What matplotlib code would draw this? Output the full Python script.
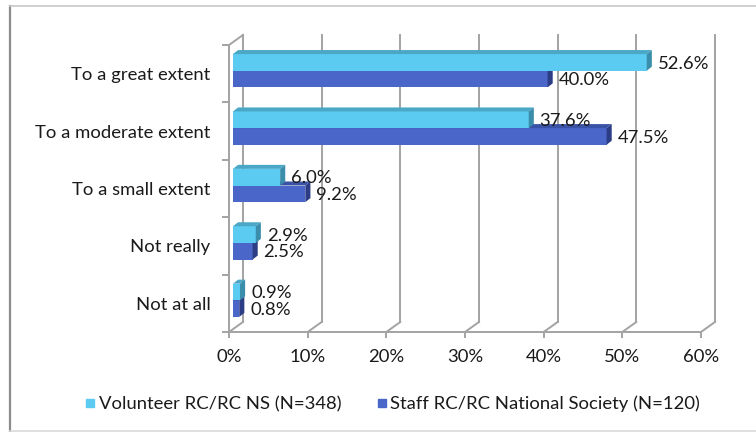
import matplotlib
matplotlib.use('Agg')
from matplotlib import pyplot as plt
from matplotlib.patches import Polygon
from matplotlib.lines import Line2D

categories = ['Not at all', 'Not really', 'To a small extent', 'To a moderate extent', 'To a great extent']
volunteer = [0.9, 2.9, 6.0, 37.6, 52.6]
staff = [0.8, 2.5, 9.2, 47.5, 40.0]
series_names = ['Volunteer RC/RC NS (N=348)', 'Staff RC/RC National Society (N=120)']
x_ticks = [0, 10, 20, 30, 40, 50, 60]
x_labels = ['0%', '10%', '20%', '30%', '40%', '50%', '60%']

plt.rcParams['font.family'] = ['Lato', 'DejaVu Sans']
fsize = 13.3
grid_col = '#a3a3a3'
text_col = '#1a1a1a'

# face colours: front, top, side
light_cols = ('#5ccbf1', '#4aa8c6', '#3a8eab')
dark_cols = ('#4a66c8', '#3a52a6', '#2c3d86')

# 3-D look: wall depth and bar depth offsets in data units
wall_dx, wall_dy = 1.78, 0.175
bar_x0, bar_y0 = 0.5, 0.052
depth_dx, depth_dy = 0.65, 0.07
bar_h = 0.29

fig = plt.figure(figsize=(7.56, 4.32), dpi=100)
ax = fig.add_axes([229/756, 100/432, 472/756, 287/432])
ax.set_xlim(0, 60)
ax.set_ylim(0, 5)
ax.patch.set_visible(False)

# back wall gridlines and floor diagonals
for x in x_ticks:
    ax.plot([x, x + wall_dx], [0, wall_dy], color=grid_col, lw=1.4, zorder=1, clip_on=False)
    ax.plot([x + wall_dx, x + wall_dx], [wall_dy, 5 + wall_dy], color=grid_col, lw=1.4, zorder=1, clip_on=False)
# top edge of the side wall
ax.plot([0, wall_dx], [5, 5 + wall_dy], color=grid_col, lw=1.4, zorder=1, clip_on=False)

for s in ['top', 'right']:
    ax.spines[s].set_visible(False)
for s in ['left', 'bottom']:
    ax.spines[s].set_color(grid_col)
    ax.spines[s].set_linewidth(1.4)

ax.set_xticks(x_ticks)
ax.set_xticklabels(x_labels, fontsize=fsize, color=text_col)
ax.tick_params(axis='x', length=4, width=1.4, color=grid_col, pad=8)
ax.set_yticks(range(6))
ax.set_yticklabels([])
ax.set_yticks([i + 0.5 for i in range(5)], minor=True)
ax.set_yticklabels(categories, minor=True, fontsize=fsize, color=text_col)
ax.tick_params(axis='y', which='major', length=5, width=1.4, color=grid_col)
ax.tick_params(axis='y', which='minor', length=0, pad=13.5)


def bar3d(x0, y0, w, h, cols):
    front, top, side = cols
    x1 = x0 + w
    ax.add_patch(Polygon([(x0, y0), (x1, y0), (x1, y0 + h), (x0, y0 + h)],
                         facecolor=front, edgecolor='none', zorder=3, clip_on=False))
    ax.add_patch(Polygon([(x0, y0 + h), (x1, y0 + h), (x1 + depth_dx, y0 + h + depth_dy),
                          (x0 + depth_dx, y0 + h + depth_dy)],
                         facecolor=top, edgecolor='none', zorder=3, clip_on=False))
    ax.add_patch(Polygon([(x1, y0), (x1 + depth_dx, y0 + depth_dy), (x1 + depth_dx, y0 + h + depth_dy),
                          (x1, y0 + h)],
                         facecolor=side, edgecolor='none', zorder=3, clip_on=False))


for i in range(len(categories)):
    base = i + 0.5 + bar_y0
    # lower (staff) bar first so the upper bar covers its top face
    bar3d(bar_x0, base - bar_h, staff[i], bar_h, dark_cols)
    bar3d(bar_x0, base, volunteer[i], bar_h, light_cols)
    ax.text(bar_x0 + volunteer[i] + depth_dx + 0.75, base + bar_h / 2 - 0.02, f'{volunteer[i]:.1f}%',
            fontsize=fsize, color=text_col, va='center', ha='left', zorder=5)
    ax.text(bar_x0 + staff[i] + depth_dx + 0.75, base - bar_h / 2 - 0.02, f'{staff[i]:.1f}%',
            fontsize=fsize, color=text_col, va='center', ha='left', zorder=5)

handles = [Line2D([], [], marker='s', ls='none', color=light_cols[0], markersize=5.5),
           Line2D([], [], marker='s', ls='none', color=dark_cols[0], markersize=5.5)]
fig.legend(handles, series_names, loc='center', bbox_to_anchor=(0.519, 0.065), ncol=2,
           frameon=False, fontsize=fsize, handlelength=0.6, handletextpad=0.15,
           columnspacing=1.9, labelcolor=text_col)

# chart area frame
fig.add_artist(Line2D([10/756, 10/756], [0, 1 - 6/432], transform=fig.transFigure, color='#8c8c8c', lw=1.6))
fig.add_artist(Line2D([10/756, 1], [1 - 6/432, 1 - 6/432], transform=fig.transFigure, color='#c8c8c8', lw=1.2))
fig.add_artist(Line2D([10/756, 1], [1/432, 1/432], transform=fig.transFigure, color='#d9d9d9', lw=1.2))

plt.savefig('out.png', dpi=100)
